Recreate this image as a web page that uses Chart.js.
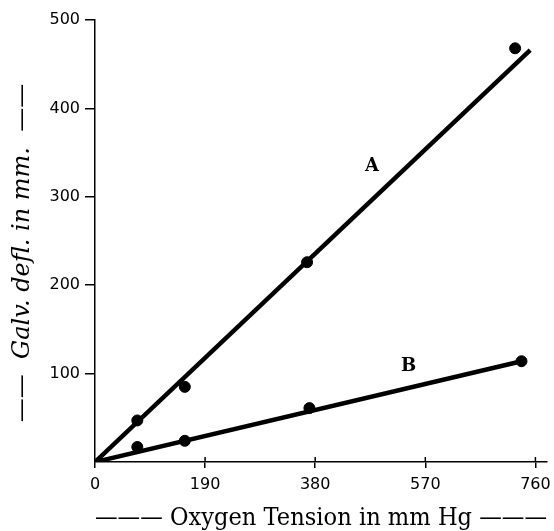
<!DOCTYPE html>
<html>
<head>
<meta charset="utf-8">
<script src="https://cdn.jsdelivr.net/npm/chart.js@4.4.1/dist/chart.umd.min.js"></script>
<style>
  html, body { margin: 0; padding: 0; background: #fff; }
  #wrap { width: 554px; height: 531px; }
</style>
</head>
<body>
<div id="wrap"><canvas id="grafica"></canvas></div>
<script>
// tension (mm Hg) and galvanometer deflection (mm)
const tensionA = [73, 155, 366, 725];
const deflA = [47, 85, 226, 468];
const tensionB = [73, 155, 370, 736];
const deflB = [17, 24, 61, 114];

// fitted lines through the origin
const lineAx = [0, 751];
const lineAy = [0, 466];
const lineBx = [0, 736];
const lineBy = [0, 114];

const xTicks = [0, 190, 380, 570, 760];
const yTicks = [100, 200, 300, 400, 500];

const curveLabels = ['A', 'B'];
const labelX = [478, 541];
const labelY = [334, 108];

const puntos = (xs, ys) => xs.map((x, i) => ({ x: x, y: ys[i] }));

const etiquetas = {
    id: 'etiquetas',
    afterDatasetsDraw(chart) {
        const ctx = chart.ctx;
        const sx = chart.scales.x;
        const sy = chart.scales.y;
        ctx.save();
        ctx.fillStyle = '#000';
        ctx.font = 'bold 18px "DejaVu Serif"';
        ctx.textAlign = 'center';
        ctx.textBaseline = 'middle';
        curveLabels.forEach((t, i) => {
            ctx.fillText(t, sx.getPixelForValue(labelX[i]), sy.getPixelForValue(labelY[i]));
        });
        // x tick marks cross the axis line
        ctx.strokeStyle = '#000';
        ctx.lineWidth = 1.5;
        xTicks.slice(1).forEach(v => {
            const px = sx.getPixelForValue(v);
            ctx.beginPath();
            ctx.moveTo(px, sy.bottom - 5);
            ctx.lineTo(px, sy.bottom);
            ctx.stroke();
        });
        ctx.restore();
    }
};

const instancia = document.getElementById('grafica').getContext('2d');
const myChart = new Chart(instancia, {
    type: 'scatter',
    data: {
        datasets: [
            {
                data: puntos(lineAx, lineAy),
                showLine: true,
                borderColor: '#000',
                borderWidth: 4.5,
                pointRadius: 0
            },
            {
                data: puntos(lineBx, lineBy),
                showLine: true,
                borderColor: '#000',
                borderWidth: 4.5,
                pointRadius: 0
            },
            {
                data: puntos(tensionA, deflA),
                showLine: false,
                pointRadius: 5.5,
                backgroundColor: '#000',
                borderColor: '#000'
            },
            {
                data: puntos(tensionB, deflB),
                showLine: false,
                pointRadius: 5.5,
                backgroundColor: '#000',
                borderColor: '#000'
            }
        ]
    },
    options: {
        responsive: true,
        maintainAspectRatio: false,
        animation: false,
        layout: { padding: { top: 20, right: 7, left: 0, bottom: 0 } },
        plugins: {
            legend: { display: false },
            tooltip: { enabled: false }
        },
        scales: {
            x: {
                type: 'linear',
                min: 0,
                max: 780,
                afterBuildTicks: s => { s.ticks = xTicks.map(v => ({ value: v })); },
                afterFit: s => { s.height = 69; s.paddingLeft = 0; s.paddingRight = 0; },
                border: { display: true, color: '#000', width: 1.5 },
                grid: { drawOnChartArea: false, color: '#000', lineWidth: 1.5, tickLength: 6 },
                ticks: {
                    color: '#000',
                    padding: 7,
                    maxRotation: 0,
                    font: { family: 'DejaVu Sans', size: 16 }
                },
                title: {
                    display: true,
                    text: '——— Oxygen Tension in mm Hg ———',
                    color: '#000',
                    padding: { top: 0, bottom: 0 },
                    font: { family: 'DejaVu Serif', size: 24, lineHeight: 1 }
                }
            },
            y: {
                type: 'linear',
                min: 0,
                max: 500,
                afterBuildTicks: s => { s.ticks = yTicks.map(v => ({ value: v })); },
                afterFit: s => { s.width = 95; },
                border: { display: true, color: '#000', width: 1.5 },
                grid: { drawOnChartArea: false, color: '#000', lineWidth: 1.5, tickLength: 10 },
                ticks: {
                    color: '#000',
                    padding: 5,
                    font: { family: 'DejaVu Sans', size: 16 }
                },
                title: {
                    display: true,
                    text: '——  Galv. defl. in mm.  ——\u2003',
                    color: '#000',
                    padding: { top: 8, bottom: 0 },
                    font: { family: 'DejaVu Serif', size: 24, style: 'italic', lineHeight: 1.2 }
                }
            }
        }
    },
    plugins: [etiquetas]
});
</script>
</body>
</html>
